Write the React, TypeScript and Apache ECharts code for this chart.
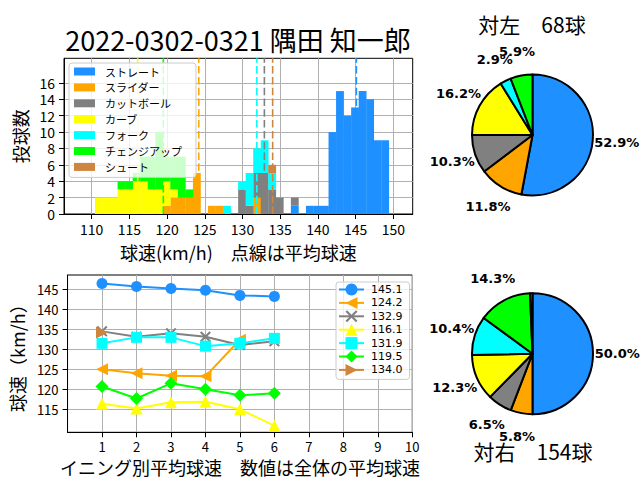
import React, { useEffect, useRef } from 'react';
import * as echarts from 'echarts';

const pitchTypes = ['ストレート', 'スライダー', 'カットボール', 'カーブ', 'フォーク', 'チェンジアップ', 'シュート'];
const pitchColors = ['#1E90FF', '#FFA500', '#808080', '#FFFF00', '#00FFFF', '#00FF00', '#CD853F'];

// histogram: 1 km/h bins starting at binStart (39 bins), stacked in pitchTypes order
const binStart = 110.44;
const binWidth = 0.999;
const histStraight = [0,0,0,0,0,0,0,0,0,0, 0,0,0,0,0,0,0,0,0,0, 0,0,0,0,0,0,1,0,1,1, 1,10,15,12,13,15,14,9,9];
const histSlider   = [0,0,0,0,0,0,0,0,0,1, 2,2,2,5,0,1,1,0,0,0, 0,2,0,0,0,0,0,0,0,0, 0,0,0,0,0,0,0,0,0];
const histCutball  = [0,0,0,0,0,0,0,0,0,0, 0,0,0,0,0,0,0,0,0,3, 1,3,5,3,2,0,1,0,0,0, 0,0,0,0,0,0,0,0,0];
const histCurve    = [2,2,2,3,3,4,4,3,3,3, 1,0,0,0,0,0,0,0,0,0, 0,0,0,0,0,0,0,0,0,0, 0,0,0,0,0,0,0,0,0];
const histFork     = [0,0,0,0,0,0,0,0,0,0, 0,0,0,0,0,0,0,1,0,1, 4,3,4,2,0,0,0,0,0,0, 0,0,0,0,0,0,0,0,0];
const histChangeup = [0,0,0,1,1,1,3,4,7,3, 4,5,1,0,0,0,0,0,0,0, 0,0,0,0,0,0,0,0,0,0, 0,0,0,0,0,0,0,0,0];
const histShoot    = [0,0,0,0,0,0,0,0,0,0, 0,0,0,0,0,0,0,0,0,0, 0,0,0,1,0,0,0,0,0,0, 0,0,0,0,0,0,0,0,0];
const histAll = [histStraight, histSlider, histCutball, histCurve, histFork, histChangeup, histShoot];

const meanSpeeds = [145.1, 124.2, 132.9, 116.1, 131.9, 119.5, 134.0];

const histXTicks = [110, 115, 120, 125, 130, 135, 140, 145, 150];
const histYTicks = [0, 2, 4, 6, 8, 10, 12, 14, 16];

// inning averages
const innings = [1, 2, 3, 4, 5, 6];
const lineStraight = [146.5, 145.75, 145.25, 144.8, 143.5, 143.25];
const lineSlider = [125.0, 124.05, 123.4, 123.25, 132.4];
const lineCutball = [134.5, 133.15, 134.0, 133.15, 131.1, 132.0];
const lineCurve = [116.4, 115.2, 116.75, 116.9, 115.0, 110.9];
const lineFork = [131.5, 133.0, 133.0, 130.8, 131.5, 132.75];
const lineChangeup = [120.7, 117.7, 121.5, 120.0, 118.5, 119.0];
const lineShoot = [134.2];
const lineAll = [lineStraight, lineSlider, lineCutball, lineCurve, lineFork, lineChangeup, lineShoot];
const lineNames = ['145.1', '124.2', '132.9', '116.1', '131.9', '119.5', '134.0'];
const lineXTicks = [1, 2, 3, 4, 5, 6, 7, 8, 9, 10];
const lineYTicks = [115, 120, 125, 130, 135, 140, 145];

// pies
const leftCounts = [36, 8, 7, 11, 2, 4, 0];
const rightCounts = [77, 9, 10, 19, 16, 22, 1];

const JP = "'Noto Sans CJK JP', 'Noto Sans', sans-serif";
const HIST_YMAX = 19;

const symLeft = 'path://M0,5L10,0L10,10Z';
const symRight = 'path://M10,5L0,0L0,10Z';
const symX = 'path://M0,1.3L1.3,0L5,3.7L8.7,0L10,1.3L6.3,5L10,8.7L8.7,10L5,6.3L1.3,10L0,8.7L3.7,5Z';
const lineSymbols = ['circle', symLeft, symX, 'triangle', 'rect', 'diamond', symRight];
const lineSymbolSizes = [11, 12, 11, 12, 11, 13, 12];

function buildOption() {
  const bottoms = new Array(histStraight.length).fill(0);
  const histSeries = histAll.map((counts, t) => {
    const data: number[][] = [];
    counts.forEach((c, k) => {
      if (c > 0) {
        const x0 = binStart + k * binWidth;
        data.push([x0, x0 + binWidth, bottoms[k], bottoms[k] + c]);
      }
      bottoms[k] += c;
    });
    return {
      type: 'custom',
      name: pitchTypes[t],
      xAxisIndex: 0,
      yAxisIndex: 0,
      itemStyle: { color: pitchColors[t] },
      encode: { x: [0, 1], y: [2, 3] },
      silent: true,
      z: 2,
      renderItem: (params: any, api: any) => {
        const a = api.coord([api.value(0), api.value(3)]);
        const b = api.coord([api.value(1), api.value(2)]);
        return {
          type: 'rect',
          shape: { x: a[0], y: a[1], width: b[0] - a[0] + 0.3, height: b[1] - a[1] },
          style: { fill: pitchColors[t], stroke: null },
        };
      },
      data,
    };
  });

  const meanSeries = {
    type: 'custom',
    name: 'mean',
    xAxisIndex: 0,
    yAxisIndex: 0,
    silent: true,
    z: 3,
    encode: { x: 0, y: 2 },
    renderItem: (params: any, api: any) => {
      const i = api.value(1);
      const p0 = api.coord([api.value(0), 0]);
      const p1 = api.coord([api.value(0), HIST_YMAX]);
      return {
        type: 'line',
        shape: { x1: p0[0], y1: p0[1], x2: p1[0], y2: p1[1] },
        style: { stroke: pitchColors[i], lineWidth: 1.6, lineDash: [7.5, 3.3] },
      };
    },
    data: meanSpeeds.map((m, i) => [m, i, 0]),
  };

  const lineSeries = lineAll.map((vals, i) => ({
    type: 'line',
    name: lineNames[i],
    xAxisIndex: 1,
    yAxisIndex: 1,
    symbol: lineSymbols[i],
    symbolSize: lineSymbolSizes[i],
    showAllSymbol: true,
    itemStyle: { color: pitchColors[i] },
    lineStyle: { color: pitchColors[i], width: 2 },
    emphasis: { disabled: true },
    silent: true,
    z: 3 + i,
    data: vals.map((v, k) => [innings[k], v]),
  }));

  const pieData = (counts: number[]) =>
    counts
      .map((v, i) => ({ name: pitchTypes[i], value: v, itemStyle: { color: pitchColors[i] } }))
      .filter((d) => d.value > 0);

  // labels split over two transparent pies (alternate slices) so that close labels both stay visible
  const labelData = (counts: number[], parity: number) => {
    const total = counts.reduce((s, v) => s + v, 0);
    return counts
      .map((v, i) => ({
        name: 'lbl' + i,
        value: v,
        idx: i,
        pct: ((v * 100) / total).toFixed(1) + '%',
      }))
      .filter((d) => d.value > 0)
      .map((d, j) => ({
        ...d,
        label: { show: j % 2 === parity && (d.value * 100) / total >= 1 },
      }));
  };

  const PIE_R = 60.5;
  const labelPie = (center: number[], counts: number[], parity: number) => ({
    type: 'pie',
    center,
    radius: PIE_R * 2.7,
    startAngle: 90,
    clockwise: true,
    silent: true,
    avoidLabelOverlap: false,
    labelLayout: { hideOverlap: false },
    emphasis: { disabled: true },
    itemStyle: { color: 'rgba(0,0,0,0)', borderWidth: 0 },
    label: {
      show: true,
      position: 'inside',
      overflow: 'none',
      formatter: (p: any) => p.data.pct,
      fontFamily: 'DejaVu Sans',
      fontWeight: 'bold',
      fontSize: 13,
      color: '#000',
      textBorderWidth: 0,
    },
    labelLine: { show: false },
    data: labelData(counts, parity),
    z: 5,
  });
  const pieSeries = (center: number[], counts: number[]) => [
    {
      type: 'pie',
      center,
      radius: PIE_R,
      startAngle: 90,
      clockwise: true,
      silent: true,
      avoidLabelOverlap: false,
      label: { show: false },
      labelLine: { show: false },
      emphasis: { disabled: true },
      itemStyle: { borderColor: '#000', borderWidth: 2 },
      data: pieData(counts),
      z: 2,
    },
    labelPie(center, counts, 0),
    labelPie(center, counts, 1),
  ];

  const axisCommon = {
    axisLine: { show: true, onZero: false, lineStyle: { color: '#000', width: 1 } },
    axisTick: { show: true, inside: false, length: 5, lineStyle: { color: '#000', width: 1 } },
    splitLine: { show: true, lineStyle: { color: '#b0b0b0', width: 1 } },
  };

  return {
    animation: false,
    backgroundColor: '#fff',
    grid: [
      { left: 64, top: 58.3, width: 348.7, height: 155.7, show: true, borderColor: '#000', borderWidth: 1, backgroundColor: 'transparent' },
      { left: 64.5, top: 275, width: 347.8, height: 157.3, show: true, borderColor: '#000', borderWidth: 1, backgroundColor: 'transparent' },
    ],
    xAxis: [
      {
        type: 'value', gridIndex: 0, min: 106.33, max: 152.57,
        ...axisCommon,
        axisTick: { ...axisCommon.axisTick, customValues: histXTicks },
        axisLabel: { customValues: histXTicks, fontSize: 14, lineHeight: 14, fontFamily: JP, color: '#000', margin: 8 },
        name: '球速(km/h)　点線は平均球速', nameLocation: 'middle', nameGap: 29,
        nameTextStyle: { fontSize: 18, lineHeight: 18, fontFamily: JP, color: '#000' },
      },
      {
        type: 'value', gridIndex: 1, min: 0, max: 10,
        ...axisCommon,
        axisTick: { ...axisCommon.axisTick, customValues: lineXTicks },
        axisLabel: { customValues: lineXTicks, fontSize: 13, lineHeight: 13, fontFamily: JP, color: '#000', margin: 8 },
        name: 'イニング別平均球速　数値は全体の平均球速', nameLocation: 'middle', nameGap: 26,
        nameTextStyle: { fontSize: 18, lineHeight: 18, fontFamily: JP, color: '#000' },
      },
    ],
    yAxis: [
      {
        type: 'value', gridIndex: 0, min: 0, max: HIST_YMAX,
        ...axisCommon,
        axisTick: { ...axisCommon.axisTick, customValues: histYTicks },
        axisLabel: { customValues: histYTicks, fontSize: 14, lineHeight: 14, fontFamily: JP, color: '#000', margin: 9 },
        name: '投球数', nameLocation: 'middle', nameGap: 30, nameRotate: 90,
        nameTextStyle: { fontSize: 18, lineHeight: 18, fontFamily: JP, color: '#000' },
      },
      {
        type: 'value', gridIndex: 1, min: 109.25, max: 148.6,
        ...axisCommon,
        axisTick: { ...axisCommon.axisTick, customValues: lineYTicks },
        axisLabel: { customValues: lineYTicks, fontSize: 13, lineHeight: 13, fontFamily: JP, color: '#000', margin: 9 },
        name: '球速（km/h）', nameLocation: 'middle', nameGap: 38, nameRotate: 90,
        nameTextStyle: { fontSize: 18, lineHeight: 18, fontFamily: JP, color: '#000' },
      },
    ],
    legend: [
      {
        orient: 'vertical', left: 69, top: 63,
        data: pitchTypes.map((n) => ({ name: n, icon: 'rect' })),
        itemWidth: 21, itemHeight: 8, itemGap: 2.9,
        selectedMode: false,
        textStyle: { fontSize: 11, lineHeight: 13, fontFamily: JP, color: '#000', padding: [0, 0, 0, 5] },
        backgroundColor: 'rgba(255,255,255,0.8)', borderColor: '#cccccc', borderWidth: 1, borderRadius: 3,
        padding: [2, 14, 4, 5],
        z: 10,
      },
      {
        orient: 'vertical', left: 336, top: 282,
        data: lineNames,
        itemWidth: 25, itemHeight: 15, itemGap: 0.4,
        selectedMode: false,
        textStyle: { fontSize: 11, lineHeight: 13, fontFamily: 'DejaVu Sans', color: '#000', padding: [0, 0, 0, 2] },
        backgroundColor: 'rgba(255,255,255,0.8)', borderColor: '#cccccc', borderWidth: 1, borderRadius: 3,
        padding: [1, 7, 3, 2],
        z: 10,
      },
    ],
    graphic: [
      { type: 'text', x: 238, y: 39, style: { text: '2022-0302-0321 隅田 知一郎', font: `27px ${JP}`, fill: '#000', align: 'center', verticalAlign: 'middle', textAlign: 'center', textVerticalAlign: 'middle' } },
      { type: 'text', x: 532, y: 24, style: { text: '対左　68球', font: `21px ${JP}`, fill: '#000', align: 'center', verticalAlign: 'middle', textAlign: 'center', textVerticalAlign: 'middle' } },
      { type: 'text', x: 533, y: 451, style: { text: '対右　154球', font: `21px ${JP}`, fill: '#000', align: 'center', verticalAlign: 'middle', textAlign: 'center', textVerticalAlign: 'middle' } },
    ],
    series: [
      ...histSeries,
      meanSeries,
      ...lineSeries,
      ...pieSeries([532.5, 135], leftCounts),
      ...pieSeries([532.5, 353.7], rightCounts),
    ],
  };
}

export default function App() {
  const ref = useRef<HTMLDivElement>(null);
  useEffect(() => {
    const chart = echarts.init(ref.current!, null, { renderer: 'svg' });
    chart.setOption(buildOption() as any);
    return () => chart.dispose();
  }, []);
  return <div ref={ref} style={{ position: 'fixed', left: 0, top: 0, width: 640, height: 480, background: '#fff' }} />;
}
